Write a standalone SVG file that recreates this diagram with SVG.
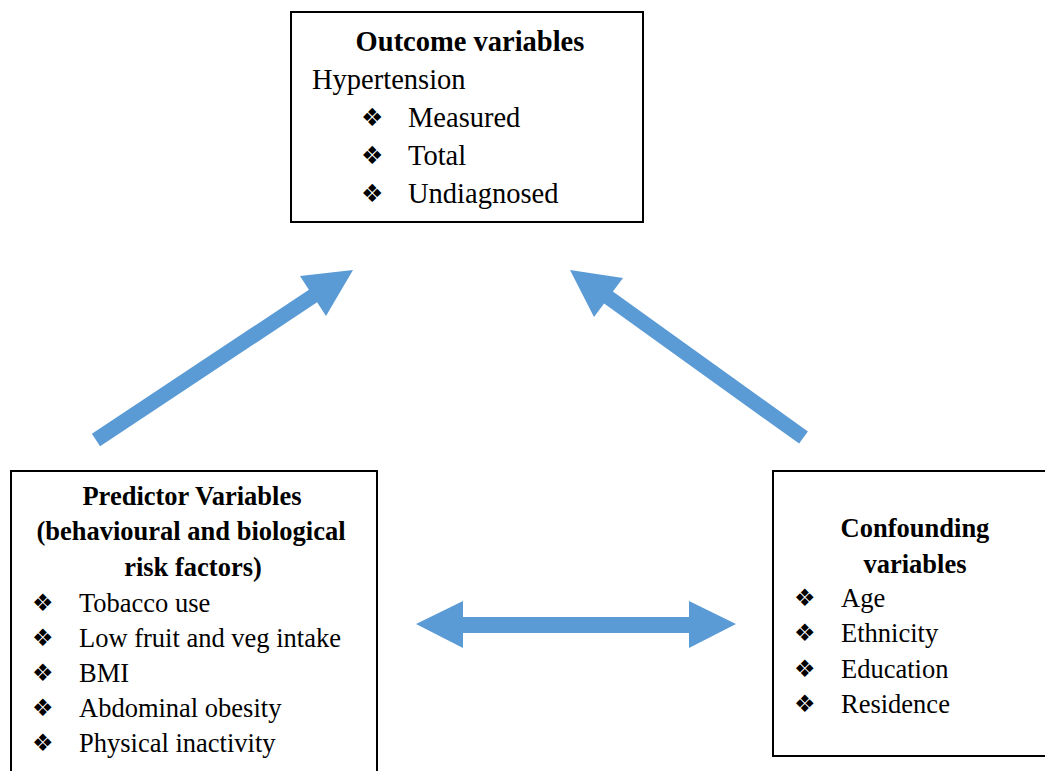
<svg xmlns="http://www.w3.org/2000/svg" width="1045" height="771" viewBox="0 0 1045 771">
<style>
.box{fill:#fff;stroke:#000;stroke-width:2}
.t{font-family:"Liberation Serif","Times New Roman",serif;fill:#000}
.b{font-weight:bold}
.big{font-size:28.5px}
.sm{font-size:26.5px}
.bul{font-family:"DejaVu Sans",sans-serif;fill:#000}
.bul1{font-size:25px}
.bul2{font-size:24px}
.arr{fill:#5B9BD5}
</style>
<rect width="1045" height="771" fill="#fff"/>
<g id="connectors">
<polygon class="arr" points="91.9,433.7 308.9,289.7 300,276 353,270 326,316 317.1,302.3 100.1,446.3"/>
<polygon class="arr" points="807.9,431.4 612.9,291.4 623,278 570,270 594,317 604.1,303.6 799.1,443.6"/>
<polygon class="arr" points="416,624 463,601 463,617 689,617 689,601 736,624 689,648 689,633 463,633 463,648"/>
</g>
<g id="outcome">
<rect class="box" x="291" y="12" width="352" height="210"/>
<text class="t b big" x="470" y="51" text-anchor="middle">Outcome variables</text>
<text class="t big" x="312" y="89">Hypertension</text>
<text class="bul bul1" x="361" y="126">❖</text>
<text class="t big" x="408" y="127">Measured</text>
<text class="bul bul1" x="361" y="164">❖</text>
<text class="t big" x="408" y="165">Total</text>
<text class="bul bul1" x="361" y="202">❖</text>
<text class="t big" x="408" y="203">Undiagnosed</text>
</g>
<g id="predictor">
<rect class="box" x="11" y="471" width="366" height="310"/>
<text class="t b sm" x="192" y="505" text-anchor="middle">Predictor Variables</text>
<text class="t b sm" x="191" y="540" text-anchor="middle">(behavioural and biological</text>
<text class="t b sm" x="193" y="576" text-anchor="middle">risk factors)</text>
<text class="bul bul2" x="32" y="611">❖</text>
<text class="t sm" x="79" y="612">Tobacco use</text>
<text class="bul bul2" x="32" y="646">❖</text>
<text class="t sm" x="79" y="647">Low fruit and veg intake</text>
<text class="bul bul2" x="32" y="681">❖</text>
<text class="t sm" x="79" y="682">BMI</text>
<text class="bul bul2" x="32" y="716">❖</text>
<text class="t sm" x="79" y="717">Abdominal obesity</text>
<text class="bul bul2" x="32" y="751">❖</text>
<text class="t sm" x="79" y="752">Physical inactivity</text>
</g>
<g id="confounding">
<rect class="box" x="773" y="471" width="285" height="285"/>
<text class="t b sm" x="915" y="537" text-anchor="middle">Confounding</text>
<text class="t b sm" x="915" y="573" text-anchor="middle">variables</text>
<text class="bul bul2" x="794" y="606">❖</text>
<text class="t sm" x="841" y="607">Age</text>
<text class="bul bul2" x="794" y="641">❖</text>
<text class="t sm" x="841" y="642">Ethnicity</text>
<text class="bul bul2" x="794" y="677">❖</text>
<text class="t sm" x="841" y="678">Education</text>
<text class="bul bul2" x="794" y="712">❖</text>
<text class="t sm" x="841" y="713">Residence</text>
</g>
</svg>
